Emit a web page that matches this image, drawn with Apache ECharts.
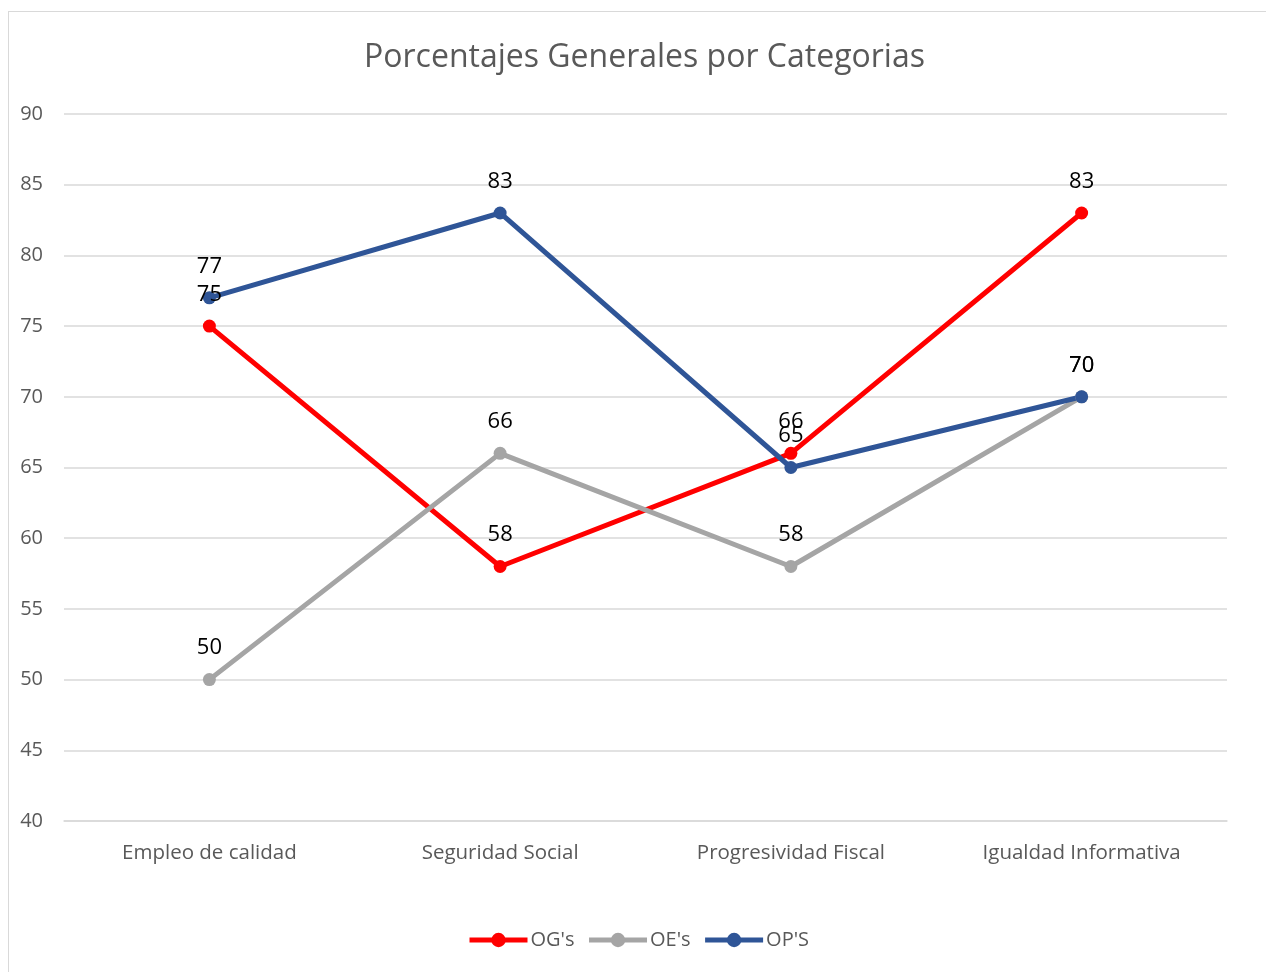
<!DOCTYPE html>
<html>
<head>
<meta charset="utf-8">
<script src="https://cdn.jsdelivr.net/npm/echarts@6/dist/echarts.min.js"></script>
<style>
  body { margin: 0; overflow: hidden; background: #fff; }
  #main { position: absolute; left: 0; top: 0; width: 1266px; height: 972px; }
  #frame { position: absolute; left: 8px; top: 11px; width: 1300px; height: 1000px;
           border: 1px solid #d9d9d9; pointer-events: none; }
</style>
</head>
<body>
<div id="main"></div>
<div id="frame"></div>
<script>
  // categorias y valores
  var categorias = ['Empleo de calidad', 'Seguridad Social', 'Progresividad Fiscal', 'Igualdad Informativa'];
  var ogs = [75, 58, 66, 83];
  var oes = [50, 66, 58, 70];
  var ops = [77, 83, 65, 70];

  var chart = echarts.init(document.getElementById('main'));

  function serie(name, data, color) {
    return {
      name: name,
      type: 'line',
      data: data,
      symbol: 'circle',
      symbolSize: 13,
      lineStyle: { width: 5, color: color },
      itemStyle: { color: color },
      label: {
        show: true,
        position: 'top',
        distance: 14,
        color: '#000',
        fontSize: 22,
        fontFamily: 'Open Sans'
      }
    };
  }

  var option = {
    animation: false,
    textStyle: { fontFamily: 'Open Sans' },
    title: {
      text: 'Porcentajes Generales por Categorias',
      left: 359,
      top: 37,
      textStyle: { fontSize: 32, fontWeight: 'normal', color: '#595959', fontFamily: 'Open Sans' }
    },
    legend: {
      bottom: 17,
      left: 462,
      itemWidth: 58,
      itemHeight: 18,
      itemGap: 12,
      lineStyle: { width: 5 },
      textStyle: { fontSize: 20, color: '#595959', padding: [0, 0, 0, -2] },
      data: ["OG's", "OE's", "OP'S"]
    },
    grid: { left: 64, top: 114, width: 1163, height: 707 },
    xAxis: {
      type: 'category',
      data: categorias,
      boundaryGap: true,
      axisLine: { lineStyle: { color: '#d9d9d9', width: 1.5 } },
      axisTick: { show: false },
      axisLabel: { fontSize: 20.5, color: '#595959', margin: 22 }
    },
    yAxis: {
      type: 'value',
      min: 40,
      max: 90,
      interval: 5,
      axisLine: { show: false },
      axisTick: { show: false },
      splitLine: { lineStyle: { color: '#d9d9d9', width: 1.5 } },
      axisLabel: { fontSize: 20, color: '#595959', margin: 21 }
    },
    series: [
      serie("OG's", ogs, '#ff0000'),
      serie("OE's", oes, '#a5a5a5'),
      serie("OP'S", ops, '#2f5597')
    ]
  };

  chart.setOption(option);
</script>
</body>
</html>
